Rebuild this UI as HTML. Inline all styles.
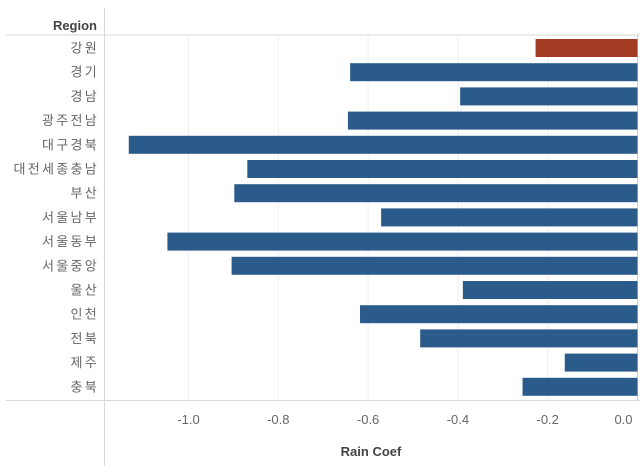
<!DOCTYPE html>
<html><head><meta charset="utf-8"><style>
body{margin:0;background:#fff;font-family:"Liberation Sans","Noto Sans CJK KR",sans-serif;}
</style></head><body>
<svg id="chart" width="640" height="470" xmlns="http://www.w3.org/2000/svg">
<line x1="6" y1="35" x2="640" y2="35" stroke="#d9d9d9" stroke-width="1"/>
<line x1="104.5" y1="8" x2="104.5" y2="466" stroke="#d9d9d9" stroke-width="1"/>
<line x1="6" y1="400.5" x2="640" y2="400.5" stroke="#d9d9d9" stroke-width="1"/>
<text x="97" y="30" text-anchor="end" font-size="13" font-weight="bold" fill="#444">Region</text>
<g id="grid"></g><g id="bars"></g><g id="labels"></g><g id="ticks"></g>
<text x="371" y="456" text-anchor="middle" font-size="13" font-weight="bold" fill="#444">Rain Coef</text>
</svg>
<script>
const categories=["강원","경기","경남","광주전남","대구경북","대전세종충남","부산","서울남부","서울동부","서울중앙","울산","인천","전북","제주","충북"];
const values=[-0.227,-0.64,-0.395,-0.645,-1.133,-0.869,-0.898,-0.571,-1.047,-0.904,-0.389,-0.618,-0.484,-0.162,-0.256];
const tickValues=[-1.0,-0.8,-0.6,-0.4,-0.2,0.0];
const tickLabels=["-1.0","-0.8","-0.6","-0.4","-0.2","0.0"];
const NS="http://www.w3.org/2000/svg";
const x=v=>637.5+v*449;
const rowTop=i=>35+i*24.2;
function mk(t,a,p){const e=document.createElementNS(NS,t);for(const k in a)e.setAttribute(k,a[k]);p.appendChild(e);return e;}
const g=document.getElementById('grid'),b=document.getElementById('bars'),l=document.getElementById('labels'),tk=document.getElementById('ticks');
tickValues.forEach((v,i)=>{
 const ln=mk('line',{x1:x(v),x2:x(v),y1:35,y2:400,stroke:v===0?'#d0d0d0':'#eeeeee','stroke-width':1},g);
 
 
 const t=mk('text',{x:x(v)-(v===0?14:0),y:424,'text-anchor':'middle','font-size':'13',fill:'#666'},tk);
 t.textContent=tickLabels[i];
 
 
});
categories.forEach((c,i)=>{
 const v=values[i];
 const r=mk('rect',{x:x(v),y:rowTop(i)+4,width:x(0)-x(v),height:18,fill:i===0?'#a33b22':'#2b5b8a'},b);
 
 
 const t=mk('text',{x:99,y:rowTop(i)+17.5,'text-anchor':'end','font-size':'13','letter-spacing':'2.3',fill:'#666'},l);
 t.textContent=c;
 
 
});
</script>
</body></html>
